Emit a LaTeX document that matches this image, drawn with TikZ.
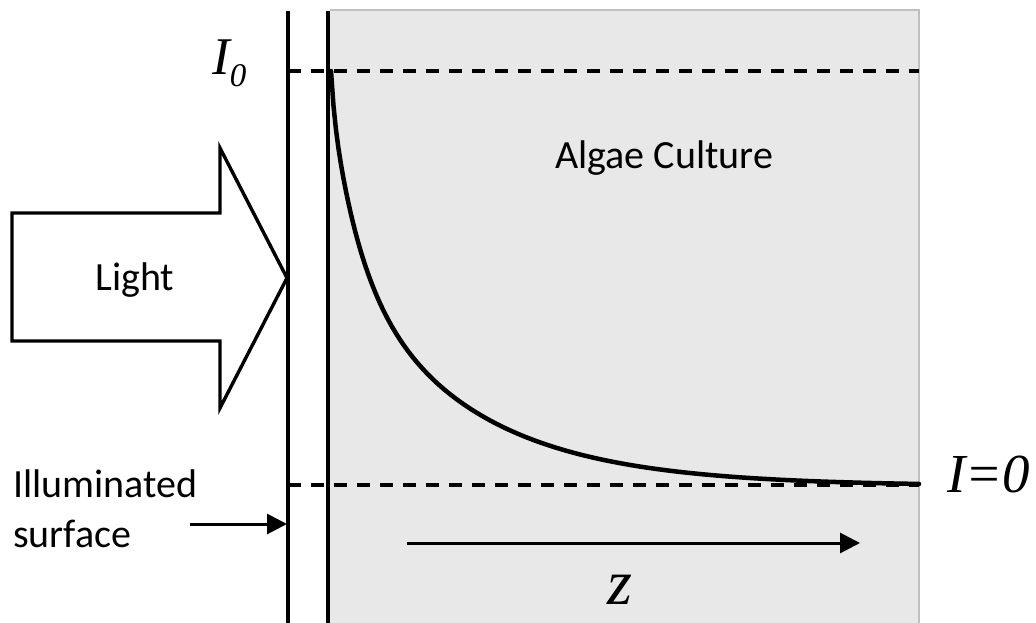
\documentclass[tikz,border=0pt]{standalone}
\usepackage{fontspec}
\setmainfont{Carlito}
\newfontfamily\mathserif{Liberation Serif}
\usetikzlibrary{arrows.meta}
\definecolor{culture}{RGB}{232,232,232}
\definecolor{cultureedge}{RGB}{192,192,192}
\begin{document}
\begin{tikzpicture}[x=1pt,y=-1pt,
  wall/.style={line width=3.4pt},
  level/.style={line width=3.2pt,dash pattern=on 13pt off 10pt},
  lbl/.style={inner sep=0pt,anchor=base west,font=\fontsize{40}{48}\selectfont},
  mlbl/.style={inner sep=0pt,anchor=base west},
  pointer/.style={line width=3pt,-{Triangle[length=20pt,width=20pt]}},
  bigarrow/.style={line width=3.4pt,line join=miter,fill=white},
  decay/.style={line width=4.5pt,line cap=round}
]
\useasboundingbox (0,0) rectangle (1036,623);
% culture region
\fill[culture] (330,10) rectangle (919,623);
\draw[cultureedge,line width=1.3pt] (330,10) -- (919,10) -- (919,623);
% levels
\draw[level] (288,71) -- (919,71);
\draw[level] (288,485) -- (919,485);
% walls
\draw[wall] (288,11) -- (288,623);
\draw[wall] (328,11) -- (328,623);
% decay curve
\draw[decay] plot[domain=0:588,samples=240,variable=\u]
  ({331+\u},{486-(30*exp(-\u/3)+150*exp(-\u/27)+235*exp(-\u/124))});
% light arrow
\draw[bigarrow] (12,213) -- (220,213) -- (220,148) -- (287,278) -- (220,408) -- (220,341) -- (12,341) -- cycle;
\node[lbl] (light) at (95,290) {Light};
\node[lbl] (culturelbl) at (555,168) {Algae Culture};
\node[lbl] (illum1) at (13,497) {Illuminated};
\node[lbl] (illum2) at (13,547) {surface};
% math labels
\node[mlbl] (izero) at (212,75) {\mathserif\itshape\fontsize{53}{53}\selectfont I\raisebox{-12pt}{\fontsize{33}{33}\selectfont 0}};
\node[mlbl] (iend) at (947,492) {\mathserif\itshape\fontsize{55}{55}\selectfont I=0};
\node[mlbl] (zlbl) at (607,604) {\mathserif\itshape\fontsize{64}{64}\selectfont z};
% pointers
\coordinate (ia) at (190,524);
\coordinate (ib) at (287,524);
\draw[pointer] (ia) -- (ib);
\coordinate (za) at (407,543);
\coordinate (zb) at (860,543);
\draw[pointer] (za) -- (zb);
\end{tikzpicture}
\end{document}
